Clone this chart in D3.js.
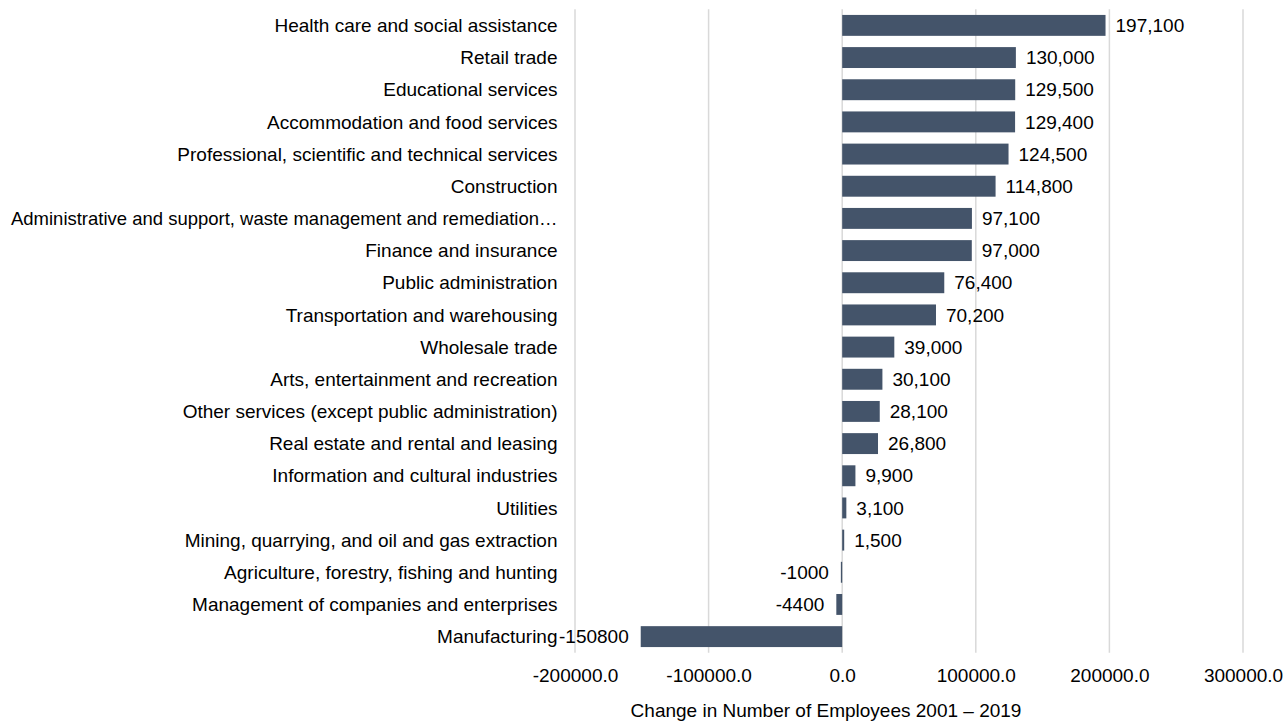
<!DOCTYPE html>
<html><head><meta charset="utf-8">
<script src="https://cdn.jsdelivr.net/npm/d3@7"></script>
<style>body{margin:0;background:#fff}svg{display:block}text{font-family:"Liberation Sans",Arial,sans-serif;}</style>
</head><body><svg id="c" width="1284" height="721"></svg>
<script>
const categories = ["Health care and social assistance","Retail trade","Educational services","Accommodation and food services","Professional, scientific and technical services","Construction","Administrative and support, waste management and remediation…","Finance and insurance","Public administration","Transportation and warehousing","Wholesale trade","Arts, entertainment and recreation","Other services (except public administration)","Real estate and rental and leasing","Information and cultural industries","Utilities","Mining, quarrying, and oil and gas extraction","Agriculture, forestry, fishing and hunting","Management of companies and enterprises","Manufacturing"];
const values = [197100,130000,129500,129400,124500,114800,97100,97000,76400,70200,39000,30100,28100,26800,9900,3100,1500,-1000,-4400,-150800];
const tickValues = [-200000,-100000,0,100000,200000,300000];
const axisTitle = "Change in Number of Employees 2001 – 2019";

const svg = d3.select("#c");
const x = d3.scaleLinear().domain([-200000,300000]).range([575,1243]);
const y = d3.scaleBand().domain(categories).range([9.3,652.7]).paddingInner(0.35).paddingOuter(0.175);

svg.append("g").selectAll("line").data(tickValues).join("line")
  .attr("x1",d=>x(d)).attr("x2",d=>x(d)).attr("y1",9.3).attr("y2",652.7)
  .attr("stroke","#d9d9d9").attr("stroke-width",1.5);

svg.append("g").selectAll("rect").data(values).join("rect")
  .attr("x",d=>x(Math.min(0,d))).attr("width",d=>Math.abs(x(d)-x(0)))
  .attr("y",(d,i)=>y(categories[i])).attr("height",y.bandwidth())
  .attr("fill","#44546a");

const fmt = d3.format(",");
svg.append("g").selectAll("text").data(values).join("text")
  .attr("x",d=> d>=0 ? x(d)+10 : x(d)-12)
  .attr("y",(d,i)=>y(categories[i])+y.bandwidth()/2)
  .attr("dy","0.35em").attr("text-anchor",d=>d>=0?"start":"end")
  .attr("font-size",19).attr("fill","#000")
  .text(d=> d>=0 ? fmt(d) : String(d));

const labelX = 557.5, minLeft = 11;
svg.append("g").selectAll("text").data(categories).join("text")
  .attr("x",labelX).attr("y",d=>y(d)+y.bandwidth()/2).attr("dy","0.35em")
  .attr("text-anchor","end").attr("font-size",19).attr("fill","#000").text(d=>d)
  .each(function(){
    const w = this.getComputedTextLength();
    if (labelX - w < minLeft) {
      d3.select(this).attr("textLength", labelX - minLeft).attr("lengthAdjust","spacingAndGlyphs");
    }
  });

const ax = d3.axisBottom(x).tickValues(tickValues).tickFormat(d=>d.toFixed(1)).tickSize(0).tickPadding(0);
const g = svg.append("g").call(ax);
g.select(".domain").remove();
g.selectAll("text").attr("font-size",19).attr("fill","#000").attr("font-family","Liberation Sans, Arial, sans-serif")
  .attr("y",682).attr("dy",null);

svg.append("text").attr("x",826).attr("y",717).attr("text-anchor","middle")
  .attr("font-size",19).attr("fill","#000").text(axisTitle);
</script></body></html>
